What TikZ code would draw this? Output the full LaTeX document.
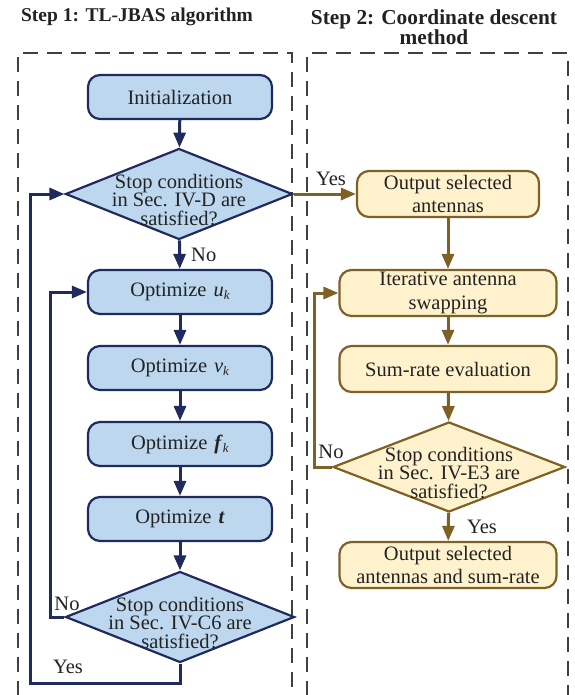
\documentclass[tikz,border=0pt]{standalone}
\usepackage{fontspec}
\setmainfont{Liberation Serif}
\usetikzlibrary{shapes.geometric,arrows.meta}
\definecolor{bfill}{HTML}{BDD7EE}
\definecolor{bline}{HTML}{1F2B5E}
\definecolor{yfill}{HTML}{FFF2CC}
\definecolor{yline}{HTML}{7F6025}
\definecolor{txt}{HTML}{222222}
\definecolor{dash}{HTML}{404040}
\newcommand{\mysub}[1]{\raisebox{-3pt}{\fontsize{13}{13}\selectfont\textit{#1}}}
\begin{document}
\begin{tikzpicture}[x=1pt,y=-1pt,
  bbox/.style={draw=bline,fill=bfill,line width=2.2pt,rounded corners=12pt,minimum width=184pt,minimum height=44pt,inner sep=0pt,align=center,text=txt,font=\fontsize{20.5}{23.5}\selectfont},
  ybox/.style={draw=yline,fill=yfill,line width=2.2pt,rounded corners=12pt,minimum width=217pt,minimum height=46pt,inner sep=0pt,align=center,text=txt,font=\fontsize{20.5}{23.5}\selectfont},
  bdia/.style={shape=diamond,draw=bline,fill=bfill,line width=2.2pt,inner sep=0pt},
  ydia/.style={shape=diamond,draw=yline,fill=yfill,line width=2.2pt,inner sep=0pt},
  dtext/.style={align=center,text=txt,inner sep=0pt,font=\fontsize{20.5}{18.5}\selectfont},
  lbl/.style={text=txt,inner sep=0pt,font=\fontsize{20.5}{23}\selectfont},
  barrow/.style={draw=bline,line width=3pt,-{Triangle[length=15pt,width=12pt]}},
  yarrow/.style={draw=yline,line width=3pt,-{Triangle[length=15pt,width=12pt]}},
  ttl/.style={text=txt,inner sep=0pt,align=center,font=\bfseries\fontsize{19.5}{20}\selectfont},
  ttlb/.style={text=txt,inner sep=0pt,align=center,font=\bfseries\fontsize{21.3}{20.5}\selectfont},
  dbox/.style={draw=dash,line width=1.8pt,dash pattern=on 15pt off 9pt}
]
\useasboundingbox (0,0) rectangle (574,695);
\clip (0,0) rectangle (574,695);
\fill[white] (0,0) rectangle (574,695);

% titles
\node[ttl] (t1) at (137,17) {Step 1: TL-JBAS algorithm};
\node[ttlb] (t2) at (434,27) {Step 2: Coordinate descent\\method};

% dashed frames
\draw[dbox] (18,720) -- (18,53) -- (292,53) -- (292,720);
\draw[dbox] (307,720) -- (307,53) -- (568,53) -- (568,720);

% left column
\node[bbox] (init) at (180,97) {Initialization};
\node[bdia,minimum width=227pt,minimum height=91pt] (d1) at (179,194) {};
\node[dtext] (d1t) at (179,200) {Stop conditions\\in Sec. IV-D are\\satisfied?};
\node[bbox] (u) at (180,292) {Optimize\hspace{7pt}\textit{u}\mysub{k}};
\node[bbox] (v) at (180,368) {Optimize\hspace{7pt}\textit{v}\mysub{k}};
\node[bbox] (f) at (180,444) {Optimize\hspace{7pt}\textbf{\textit{f}}\mysub{k}};
\node[bbox] (t) at (180,519) {Optimize\hspace{7pt}\textbf{\textit{t}}};
\node[bdia,minimum width=229pt,minimum height=91pt] (d2) at (180,617) {};
\node[dtext] (d2t) at (180,623) {Stop conditions\\in Sec. IV-C6 are\\satisfied?};

% right column
\node[ybox,minimum width=182pt] (o1) at (448,194) {Output selected\\antennas};
\node[ybox] (it) at (448,293) {Iterative antenna\\swapping};
\node[ybox] (sr) at (448,369) {Sum-rate evaluation};
\node[ydia,minimum width=232pt,minimum height=90pt] (d3) at (449,467) {};
\node[dtext] (d3t) at (449,473) {Stop conditions\\in Sec. IV-E3 are\\satisfied?};
\node[ybox] (o2) at (448,565) {Output selected\\antennas and sum-rate};

% coordinates for loops
\coordinate (a1) at (180,683);
\coordinate (a2) at (30,683);
\coordinate (a3) at (30,194);
\coordinate (b1) at (50,617);
\coordinate (b2) at (50,292);
\coordinate (c1) at (314,467);
\coordinate (c2) at (314,293);

% left arrows
\draw[barrow] (init) -- (d1);
\draw[barrow] (d1) -- (u);
\draw[barrow] (u) -- (v);
\draw[barrow] (v) -- (f);
\draw[barrow] (f) -- (t);
\draw[barrow] (t) -- (d2);
\draw[barrow] (d2.south) -- (a1) -- (a2) -- (a3) -- (d1.west);
\draw[barrow] (d2.west) -- (b1) -- (b2) -- (u.west);

% cross arrow
\draw[yarrow] (d1.east) -- (o1.west);

% right arrows
\draw[yarrow] (o1) -- (it);
\draw[yarrow] (it) -- (sr);
\draw[yarrow] (sr) -- (d3);
\draw[yarrow] (d3) -- (o2);
\draw[yarrow] (d3.west) -- (c1) -- (c2) -- (it.west);

% labels
\node[lbl,anchor=west] (l1) at (191,255) {No};
\node[lbl] (l2) at (331,179) {Yes};
\node[lbl] (l3) at (67,604) {No};
\node[lbl] (l4) at (68,667) {Yes};
\node[lbl] (l5) at (331,452) {No};
\node[lbl] (l6) at (482,527) {Yes};
\end{tikzpicture}
\end{document}
